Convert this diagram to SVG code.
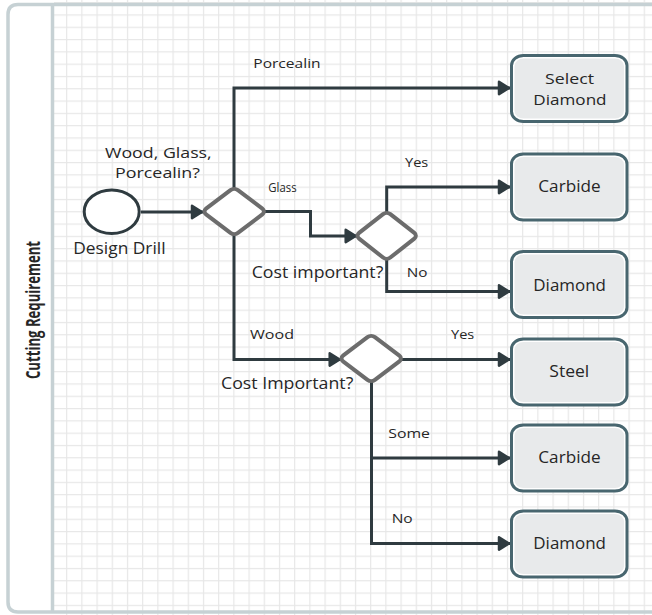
<svg xmlns="http://www.w3.org/2000/svg" width="652" height="615" viewBox="0 0 652 615">
<defs>
<style>
.t{font-family:"Open Sans","Liberation Sans",sans-serif;fill:#262626}
.s{font-size:12.5px}
.m{font-size:15.5px}
.m2{font-size:14.4px}
.b{font-size:16.5px}
.b2{font-size:15.2px}
.conn{fill:none;stroke:#2f3b40;stroke-width:3}
.dia{fill:#fff;stroke:#6c6c6c;stroke-width:4}
.boxo{fill:#fff;stroke:#48666f;stroke-width:3}
.boxi{fill:#e8eaeb}
</style>
<pattern id="grid" patternUnits="userSpaceOnUse" x="66.1" y="14.4" width="15.2" height="12.3">
<path d="M0.6 0V12.3M0 0.6H15.2" stroke="#e7e7e7" stroke-width="1.2" fill="none"/>
</pattern>
<marker id="ah" markerUnits="userSpaceOnUse" viewBox="0 0 14 16" refX="13" refY="8" markerWidth="14" markerHeight="16" orient="auto">
<path d="M2,1.8 L12,8 L2,14.2 Z" fill="#2f3b40" stroke="#2f3b40" stroke-width="2.5" stroke-linejoin="round"/>
</marker>
</defs>
<rect width="652" height="615" fill="#fff"/>
<rect x="54" y="0" width="598" height="615" fill="url(#grid)"/>
<g id="pool">
<path d="M652,4.5H18Q8,4.5 8,14.5V602Q8,612 18,612H652" fill="none" stroke="#c6d1d4" stroke-width="3.5"/>
<line x1="52.5" y1="4.5" x2="52.5" y2="612" stroke="#c6d1d4" stroke-width="3.5"/>
<text class="t" font-weight="bold" font-size="19" text-anchor="middle" textLength="138" lengthAdjust="spacingAndGlyphs" transform="translate(39.5,310) rotate(-90)" x="0" y="0">Cutting Requirement</text>
</g>
<g id="connectors">
<path class="conn" marker-end="url(#ah)" d="M141,212H203"/>
<path class="conn" marker-end="url(#ah)" d="M234,188V88H510"/>
<path class="conn" marker-end="url(#ah)" d="M265,211.5H310.5V236H356.7"/>
<path class="conn" marker-end="url(#ah)" d="M234,235V359.5H340.7"/>
<path class="conn" marker-end="url(#ah)" d="M386.7,212V187H510"/>
<path class="conn" marker-end="url(#ah)" d="M386.7,259V291.5H510"/>
<path class="conn" marker-end="url(#ah)" d="M401.7,359.5H510"/>
<path class="conn" marker-end="url(#ah)" d="M371.5,381V543.5H510"/>
<path class="conn" marker-end="url(#ah)" d="M371.5,458H510"/>
</g>
<g id="start">
<ellipse cx="111.7" cy="211.7" rx="27.5" ry="21.8" fill="#fff" stroke="#2f3b40" stroke-width="3"/>
<text class="t m" x="73.3" y="253.5" textLength="92.3" lengthAdjust="spacingAndGlyphs">Design Drill</text>
</g>
<g id="gw1">
<rect class="dia" x="-21.46" y="-21.46" width="42.92" height="42.92" rx="5" vector-effect="non-scaling-stroke" transform="translate(234.2,211.5) scale(1.05,0.8) rotate(45)"/>
<text class="t m2" x="105" y="157.8" textLength="106.7" lengthAdjust="spacingAndGlyphs">Wood, Glass,</text>
<text class="t m2" x="115" y="177.6" textLength="85" lengthAdjust="spacingAndGlyphs">Porcealin?</text>
</g>
<g id="gw2">
<rect class="dia" x="-21.46" y="-21.46" width="42.92" height="42.92" rx="5" vector-effect="non-scaling-stroke" transform="translate(386.7,235.8) scale(1.03,0.81) rotate(45)"/>
<text class="t m" x="251.7" y="278.3" textLength="131.6" lengthAdjust="spacingAndGlyphs">Cost important?</text>
</g>
<g id="gw3">
<rect class="dia" x="-21.46" y="-21.46" width="42.92" height="42.92" rx="5" vector-effect="non-scaling-stroke" transform="translate(371.2,358.5) scale(1.05,0.8) rotate(45)"/>
<text class="t m" x="221" y="389.3" textLength="132.3" lengthAdjust="spacingAndGlyphs">Cost Important?</text>
</g>
<g id="labels">
<text class="t s" x="253.3" y="68.3" textLength="67.3" lengthAdjust="spacingAndGlyphs">Porcealin</text>
<text class="t s" x="268.3" y="192.3" textLength="28.3" lengthAdjust="spacingAndGlyphs">Glass</text>
<text class="t s" x="405" y="166.7" textLength="23.3" lengthAdjust="spacingAndGlyphs">Yes</text>
<text class="t s" x="406.7" y="277.3" textLength="20.7" lengthAdjust="spacingAndGlyphs">No</text>
<text class="t s" x="250" y="339.3" textLength="44" lengthAdjust="spacingAndGlyphs">Wood</text>
<text class="t s" x="451" y="339" textLength="23.3" lengthAdjust="spacingAndGlyphs">Yes</text>
<text class="t s" x="388.3" y="437.7" textLength="41.7" lengthAdjust="spacingAndGlyphs">Some</text>
<text class="t s" x="391.7" y="522.7" textLength="21" lengthAdjust="spacingAndGlyphs">No</text>
</g>
<g id="selectDiamond">
<rect class="boxo" x="511.5" y="55.5" width="115.5" height="66" rx="12" ry="10"/>
<rect class="boxi" x="514.5" y="58.5" width="109.5" height="60" rx="9" ry="7.5"/>
<text class="t b2" x="545" y="83.8" textLength="49" lengthAdjust="spacingAndGlyphs">Select</text>
<text class="t b2" x="533.3" y="104.8" textLength="73.3" lengthAdjust="spacingAndGlyphs">Diamond</text>
</g>
<g id="carbide1">
<rect class="boxo" x="511.5" y="154" width="115.5" height="66" rx="12" ry="10"/>
<rect class="boxi" x="514.5" y="157" width="109.5" height="60" rx="9" ry="7.5"/>
<text class="t b" x="538.3" y="191.7" textLength="62.3" lengthAdjust="spacingAndGlyphs">Carbide</text>
</g>
<g id="diamond1">
<rect class="boxo" x="511.5" y="251.5" width="115.5" height="66" rx="12" ry="10"/>
<rect class="boxi" x="514.5" y="254.5" width="109.5" height="60" rx="9" ry="7.5"/>
<text class="t b" x="533.3" y="290.7" textLength="72.7" lengthAdjust="spacingAndGlyphs">Diamond</text>
</g>
<g id="steel">
<rect class="boxo" x="511.5" y="339" width="115.5" height="66" rx="12" ry="10"/>
<rect class="boxi" x="514.5" y="342" width="109.5" height="60" rx="9" ry="7.5"/>
<text class="t b" x="549.3" y="376.7" textLength="40" lengthAdjust="spacingAndGlyphs">Steel</text>
</g>
<g id="carbide2">
<rect class="boxo" x="511.5" y="425" width="115.5" height="66" rx="12" ry="10"/>
<rect class="boxi" x="514.5" y="428" width="109.5" height="60" rx="9" ry="7.5"/>
<text class="t b" x="538.3" y="462.7" textLength="62.3" lengthAdjust="spacingAndGlyphs">Carbide</text>
</g>
<g id="diamond2">
<rect class="boxo" x="511.5" y="511" width="115.5" height="66" rx="12" ry="10"/>
<rect class="boxi" x="514.5" y="514" width="109.5" height="60" rx="9" ry="7.5"/>
<text class="t b" x="533.3" y="549.3" textLength="72.7" lengthAdjust="spacingAndGlyphs">Diamond</text>
</g>
</svg>
